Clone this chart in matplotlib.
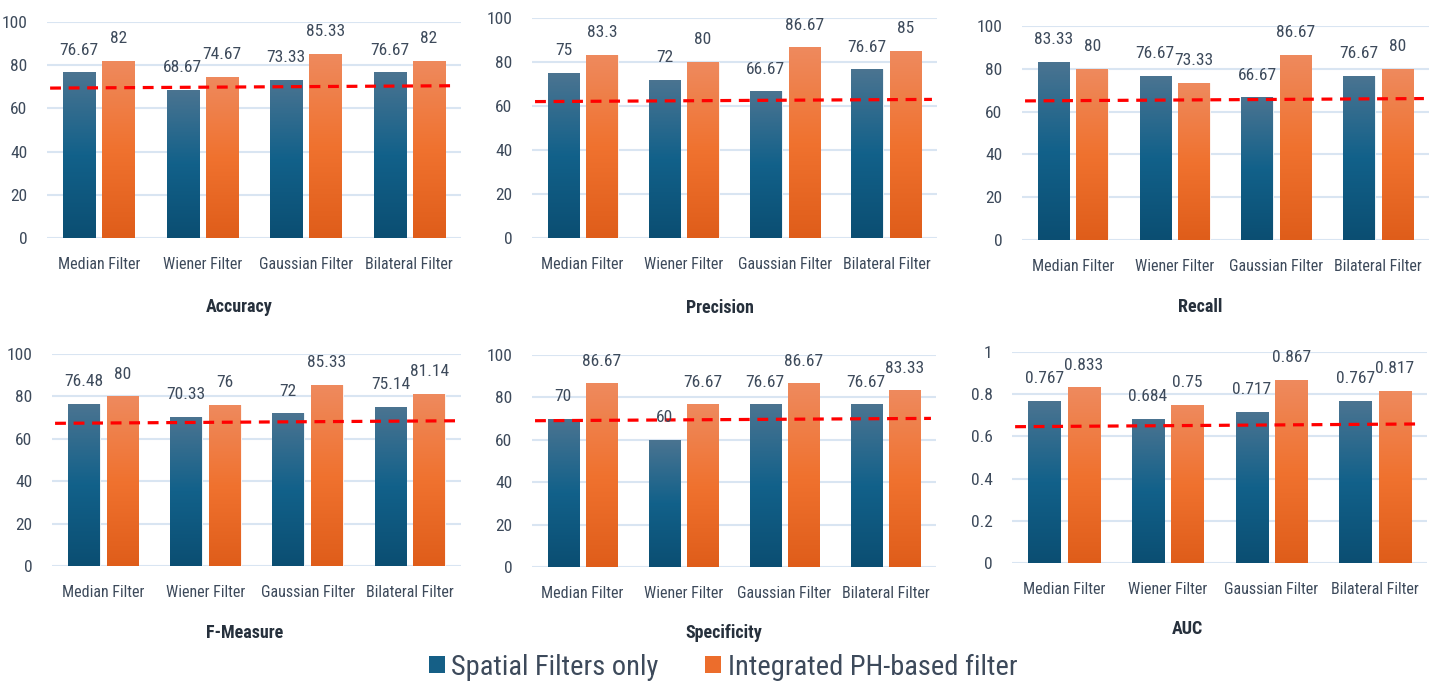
import matplotlib
matplotlib.use("Agg")
import matplotlib.pyplot as plt
import numpy as np
from matplotlib import font_manager
from matplotlib.colors import LinearSegmentedColormap
from matplotlib.patches import Patch

# ---- data -------------------------------------------------------------
filters = ["Median Filter", "Wiener Filter", "Gaussian Filter", "Bilateral Filter"]
series_names = ["Spatial Filters only", "Integrated PH-based filter"]

accuracy_spatial = [76.67, 68.67, 73.33, 76.67]
accuracy_ph = [82, 74.67, 85.33, 82]
precision_spatial = [75, 72, 66.67, 76.67]
precision_ph = [83.3, 80, 86.67, 85]
recall_spatial = [83.33, 76.67, 66.67, 76.67]
recall_ph = [80, 73.33, 86.67, 80]
fmeasure_spatial = [76.48, 70.33, 72, 75.14]
fmeasure_ph = [80, 76, 85.33, 81.14]
specificity_spatial = [70, 60, 76.67, 76.67]
specificity_ph = [86.67, 76.67, 86.67, 83.33]
auc_spatial = [0.767, 0.684, 0.717, 0.767]
auc_ph = [0.833, 0.75, 0.867, 0.817]

# reference (dashed) line: value at left end, value at right end
ref_accuracy = [69.4, 70.5]
ref_precision = [62.0, 63.0]
ref_recall = [65.0, 66.1]
ref_fmeasure = [67.3, 68.5]
ref_specificity = [69.0, 70.1]
ref_auc = [0.646, 0.659]

titles = ["Accuracy", "Precision", "Recall", "F-Measure", "Specificity", "AUC"]
pct_ticks = [0, 20, 40, 60, 80, 100]
auc_ticks = [0, 0.2, 0.4, 0.6, 0.8, 1]

# ---- fonts ------------------------------------------------------------
available = {f.name for f in font_manager.fontManager.ttflist}
narrow = [n for n in ("Liberation Sans Narrow", "Roboto Condensed",
                      "Open Sans Condensed", "Arial Narrow") if n in available]
if narrow:
    plt.rcParams["font.family"] = [narrow[0], "DejaVu Sans"]
else:
    plt.rcParams["font.family"] = ["DejaVu Sans"]
    plt.rcParams["font.stretch"] = "condensed"

TEXT = "#3d4a5b"
TITLE = "#26303c"
GRID = "#d9e5f2"

blue_cmap = LinearSegmentedColormap.from_list("blue", ["#0b4e72", "#12618a", "#4b7491"])
orange_cmap = LinearSegmentedColormap.from_list("orange", ["#df5d1a", "#f0722f", "#ee8a5e"])

W, H = 1434, 684
fig = plt.figure(figsize=(W / 100, H / 100), dpi=100)

# axes boxes in pixels: left, right, top(max value), bottom(zero)
boxes = [(47, 461, 22, 238), (532, 937, 18, 238), (1022, 1429, 26, 240),
         (52, 461, 354, 566), (532, 936, 355, 567), (1012, 1427, 352, 563)]
title_pos = [(239, 307), (720, 308), (1200, 307), (245, 633), (724, 633), (1187, 629)]

panels = [
    (accuracy_spatial, accuracy_ph, ref_accuracy, pct_ticks),
    (precision_spatial, precision_ph, ref_precision, pct_ticks),
    (recall_spatial, recall_ph, ref_recall, pct_ticks),
    (fmeasure_spatial, fmeasure_ph, ref_fmeasure, pct_ticks),
    (specificity_spatial, specificity_ph, ref_specificity, pct_ticks),
    (auc_spatial, auc_ph, ref_auc, auc_ticks),
]

grad = np.linspace(0, 1, 256).reshape(-1, 1)
x = np.arange(len(filters))
bw = 0.31
off = 0.19

for (sp, ph, ref, ticks), (l, r, t, b), title, (tx, ty) in zip(panels, boxes, titles, title_pos):
    ax = fig.add_axes([l / W, (H - b) / H, (r - l) / W, (b - t) / H])
    ymax = ticks[-1]
    for s in ax.spines.values():
        s.set_visible(False)
    ax.set_yticks(ticks)
    ax.set_yticklabels([f"{v:g}" for v in ticks])
    ax.yaxis.grid(True, color=GRID, lw=1.5, zorder=0)
    ax.set_axisbelow(True)
    ax.tick_params(axis="y", length=0, pad=14, labelsize=12.5, labelcolor=TEXT)
    ax.set_xticks(x)
    ax.set_xticklabels(filters)
    ax.tick_params(axis="x", length=0, pad=13.5, labelsize=11.5, labelcolor=TEXT)
    ax.axhline(0, color=GRID, lw=2, zorder=1)

    for vals, shift, cmap, mid in ((sp, -off, blue_cmap, "#155f86"),
                                   (ph, off, orange_cmap, "#ec6d2c")):
        bars = ax.bar(x + shift, vals, bw, color=mid, edgecolor="white",
                      linewidth=0.6, zorder=2)
        for rect, v in zip(bars, vals):
            x0 = rect.get_x()
            img = ax.imshow(grad, cmap=cmap, origin="lower", aspect="auto",
                            extent=(x0, x0 + rect.get_width(), 0, rect.get_height()),
                            zorder=2.5)
            img.set_clip_path(rect)
            ax.annotate(f"{v:g}", (rect.get_x() + rect.get_width() / 2, v),
                        xytext=(0, 16), textcoords="offset points",
                        ha="center", va="center", fontsize=12.5, color=TEXT,
                        annotation_clip=False, zorder=4)
    ax.set_xlim(-0.5, len(filters) - 0.5)
    ax.set_ylim(0, ymax)

    ax.plot([-0.47, len(filters) - 0.55], ref, color="#ff0000", lw=2.3,
            dashes=(3.4, 2.4), zorder=3, clip_on=False)

    fig.text(tx / W, 1 - ty / H, title, ha="center", va="center",
             fontsize=13, fontweight="bold", color=TITLE)

handles = [Patch(facecolor="#155f86", label=series_names[0]),
           Patch(facecolor="#ec6d2c", label=series_names[1])]
fig.legend(handles=handles, loc="center", bbox_to_anchor=(723 / W, 1 - 667 / H),
           ncol=2, frameon=False, fontsize=20.5, labelcolor=TEXT,
           handlelength=0.56, handleheight=0.56, handletextpad=0.22,
           columnspacing=1.65, borderpad=0, borderaxespad=0)

fig.savefig("out.png", dpi=100, facecolor="white")
